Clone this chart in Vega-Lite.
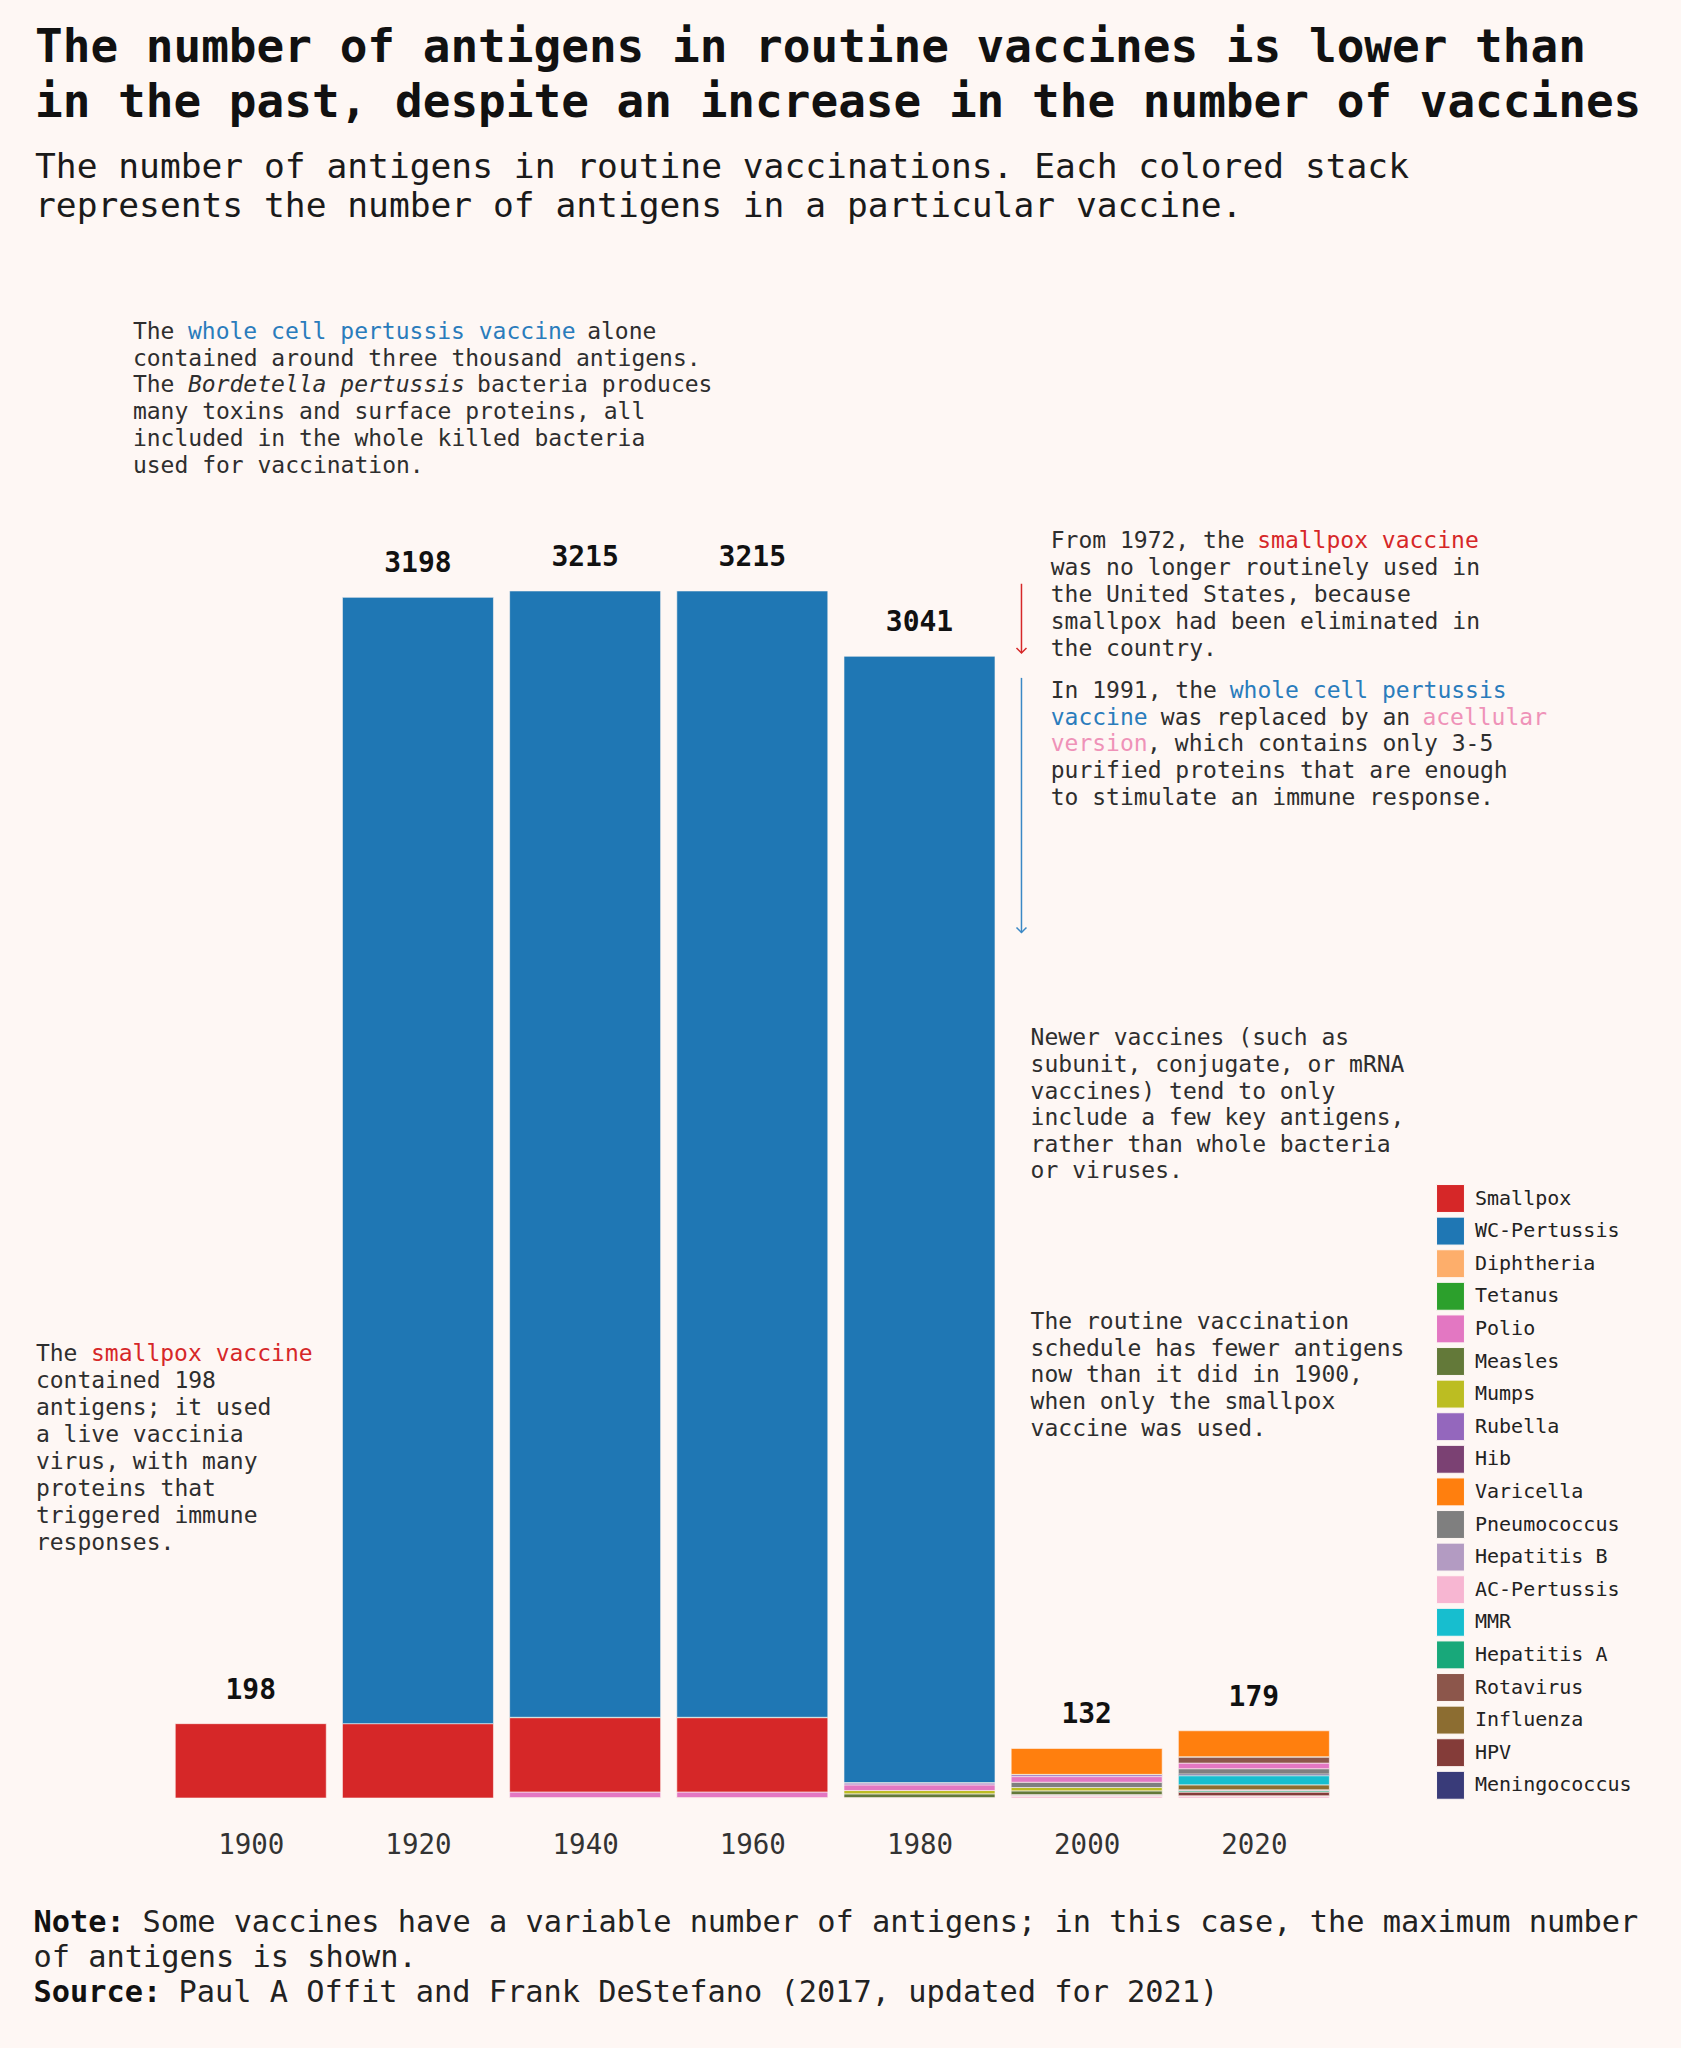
{
  "$schema": "https://vega.github.io/schema/vega-lite/v6.json",
  "width": 1681,
  "height": 1498,
  "autosize": {"type": "none"},
  "padding": {"left": 0, "top": 300, "right": 0, "bottom": 250},
  "background": "#fef7f4",
  "config": {"view": {"stroke": null}, "font": "DejaVu Sans Mono"},
  "title": {
    "text": ["The number of antigens in routine vaccines is lower than", "in the past, despite an increase in the number of vaccines"],
    "subtitle": ["The number of antigens in routine vaccinations. Each colored stack", "represents the number of antigens in a particular vaccine."],
    "anchor": "start",
    "frame": "group",
    "orient": "top",
    "font": "DejaVu Sans Mono",
    "fontSize": 46,
    "fontWeight": "bold",
    "color": "#111111",
    "lineHeight": 55,
    "subtitleFont": "DejaVu Sans Mono",
    "subtitleFontSize": 34.6,
    "subtitleColor": "#1a1a1a",
    "subtitleLineHeight": 39,
    "subtitlePadding": 24,
    "offset": 75,
    "dx": 35
  },
  "datasets": {
    "bars": [
      {"Year": 1900, "Vaccine": "Smallpox", "Antigens": 198},
      {"Year": 1920, "Vaccine": "Smallpox", "Antigens": 198},
      {"Year": 1920, "Vaccine": "WC-Pertussis", "Antigens": 3000},
      {"Year": 1940, "Vaccine": "Diphtheria", "Antigens": 1},
      {"Year": 1940, "Vaccine": "Polio", "Antigens": 15},
      {"Year": 1940, "Vaccine": "Smallpox", "Antigens": 198},
      {"Year": 1940, "Vaccine": "Tetanus", "Antigens": 1},
      {"Year": 1940, "Vaccine": "WC-Pertussis", "Antigens": 3000},
      {"Year": 1960, "Vaccine": "Diphtheria", "Antigens": 1},
      {"Year": 1960, "Vaccine": "Polio", "Antigens": 15},
      {"Year": 1960, "Vaccine": "Smallpox", "Antigens": 198},
      {"Year": 1960, "Vaccine": "Tetanus", "Antigens": 1},
      {"Year": 1960, "Vaccine": "WC-Pertussis", "Antigens": 3000},
      {"Year": 1980, "Vaccine": "Diphtheria", "Antigens": 1},
      {"Year": 1980, "Vaccine": "Measles", "Antigens": 10},
      {"Year": 1980, "Vaccine": "Mumps", "Antigens": 9},
      {"Year": 1980, "Vaccine": "Polio", "Antigens": 15},
      {"Year": 1980, "Vaccine": "Rubella", "Antigens": 5},
      {"Year": 1980, "Vaccine": "Tetanus", "Antigens": 1},
      {"Year": 1980, "Vaccine": "WC-Pertussis", "Antigens": 3000},
      {"Year": 2000, "Vaccine": "AC-Pertussis", "Antigens": 5},
      {"Year": 2000, "Vaccine": "Diphtheria", "Antigens": 1},
      {"Year": 2000, "Vaccine": "Hepatitis B", "Antigens": 1},
      {"Year": 2000, "Vaccine": "Hib", "Antigens": 2},
      {"Year": 2000, "Vaccine": "Measles", "Antigens": 10},
      {"Year": 2000, "Vaccine": "Mumps", "Antigens": 9},
      {"Year": 2000, "Vaccine": "Pneumococcus", "Antigens": 14},
      {"Year": 2000, "Vaccine": "Polio", "Antigens": 15},
      {"Year": 2000, "Vaccine": "Rubella", "Antigens": 5},
      {"Year": 2000, "Vaccine": "Tetanus", "Antigens": 1},
      {"Year": 2000, "Vaccine": "Varicella", "Antigens": 69},
      {"Year": 2020, "Vaccine": "AC-Pertussis", "Antigens": 5},
      {"Year": 2020, "Vaccine": "Diphtheria", "Antigens": 1},
      {"Year": 2020, "Vaccine": "Hepatitis A", "Antigens": 4},
      {"Year": 2020, "Vaccine": "Hepatitis B", "Antigens": 1},
      {"Year": 2020, "Vaccine": "Hib", "Antigens": 2},
      {"Year": 2020, "Vaccine": "HPV", "Antigens": 9},
      {"Year": 2020, "Vaccine": "Influenza", "Antigens": 13},
      {"Year": 2020, "Vaccine": "Meningococcus", "Antigens": 5},
      {"Year": 2020, "Vaccine": "MMR", "Antigens": 24},
      {"Year": 2020, "Vaccine": "Pneumococcus", "Antigens": 14},
      {"Year": 2020, "Vaccine": "Polio", "Antigens": 15},
      {"Year": 2020, "Vaccine": "Rotavirus", "Antigens": 16},
      {"Year": 2020, "Vaccine": "Tetanus", "Antigens": 1},
      {"Year": 2020, "Vaccine": "Varicella", "Antigens": 69}
    ],
    "arrow_smallpox": [{"Year": 1992.2, "Start": 3234.2, "End": 3049.7}],
    "arrow_pertussis": [{"Year": 1992.2, "Start": 2983.5, "End": 2305.2}],
    "notes_black": [
      {"Year": 1885.9, "Antigens": 3905.5, "Text": "The"},
      {"Year": 1940.24, "Antigens": 3905.5, "Text": "alone"},
      {"Year": 1885.9, "Antigens": 3833.9, "Text": "contained around three thousand antigens."},
      {"Year": 1885.9, "Antigens": 3762.3, "Text": "The"},
      {"Year": 1927.07, "Antigens": 3762.3, "Text": "bacteria produces"},
      {"Year": 1885.9, "Antigens": 3690.7, "Text": "many toxins and surface proteins, all"},
      {"Year": 1885.9, "Antigens": 3619.1, "Text": "included in the whole killed bacteria"},
      {"Year": 1885.9, "Antigens": 3547.5, "Text": "used for vaccination."},
      {"Year": 1995.7, "Antigens": 3348.9, "Text": "From 1972, the"},
      {"Year": 1995.7, "Antigens": 3276.9, "Text": "was no longer routinely used in"},
      {"Year": 1995.7, "Antigens": 3204.9, "Text": "the United States, because"},
      {"Year": 1995.7, "Antigens": 3132.9, "Text": "smallpox had been eliminated in"},
      {"Year": 1995.7, "Antigens": 3060.9, "Text": "the country."},
      {"Year": 1995.7, "Antigens": 2948.8, "Text": "In 1991, the"},
      {"Year": 2008.87, "Antigens": 2877.5, "Text": "was replaced by an"},
      {"Year": 2007.23, "Antigens": 2806.2, "Text": ", which contains only 3-5"},
      {"Year": 1995.7, "Antigens": 2734.9, "Text": "purified proteins that are enough"},
      {"Year": 1995.7, "Antigens": 2663.6, "Text": "to stimulate an immune response."},
      {"Year": 1993.29, "Antigens": 2023.4, "Text": "Newer vaccines (such as"},
      {"Year": 1993.29, "Antigens": 1952.5, "Text": "subunit, conjugate, or mRNA"},
      {"Year": 1993.29, "Antigens": 1881.6, "Text": "vaccines) tend to only"},
      {"Year": 1993.29, "Antigens": 1810.7, "Text": "include a few key antigens,"},
      {"Year": 1993.29, "Antigens": 1739.8, "Text": "rather than whole bacteria"},
      {"Year": 1993.29, "Antigens": 1668.9, "Text": "or viruses."},
      {"Year": 1993.29, "Antigens": 1268.4, "Text": "The routine vaccination"},
      {"Year": 1993.29, "Antigens": 1197.1, "Text": "schedule has fewer antigens"},
      {"Year": 1993.29, "Antigens": 1125.8, "Text": "now than it did in 1900,"},
      {"Year": 1993.29, "Antigens": 1054.5, "Text": "when only the smallpox"},
      {"Year": 1993.29, "Antigens": 983.2, "Text": "vaccine was used."},
      {"Year": 1874.3, "Antigens": 1181.4, "Text": "The"},
      {"Year": 1874.3, "Antigens": 1109.8, "Text": "contained 198"},
      {"Year": 1874.3, "Antigens": 1038.2, "Text": "antigens; it used"},
      {"Year": 1874.3, "Antigens": 966.6, "Text": "a live vaccinia"},
      {"Year": 1874.3, "Antigens": 895.0, "Text": "virus, with many"},
      {"Year": 1874.3, "Antigens": 823.4, "Text": "proteins that"},
      {"Year": 1874.3, "Antigens": 751.8, "Text": "triggered immune"},
      {"Year": 1874.3, "Antigens": 680.2, "Text": "responses."}
    ],
    "notes_blue": [
      {"Year": 1892.49, "Antigens": 3905.5, "Text": "whole cell pertussis vaccine"},
      {"Year": 2017.11, "Antigens": 2948.8, "Text": "whole cell pertussis"},
      {"Year": 1995.7, "Antigens": 2877.5, "Text": "vaccine"}
    ],
    "notes_red": [
      {"Year": 2020.4, "Antigens": 3348.9, "Text": "smallpox vaccine"},
      {"Year": 1880.89, "Antigens": 1181.4, "Text": "smallpox vaccine"}
    ],
    "notes_pink": [
      {"Year": 2040.16, "Antigens": 2877.5, "Text": "acellular"},
      {"Year": 1995.7, "Antigens": 2806.2, "Text": "version"}
    ],
    "notes_italic": [
      {"Year": 1892.49, "Antigens": 3762.3, "Text": "Bordetella pertussis"}
    ],
    "foot_bold": [
      {"Year": 1874.02, "Antigens": -331.9, "Text": "Note:"},
      {"Year": 1874.02, "Antigens": -519.9, "Text": "Source:"}
    ],
    "foot_normal": [
      {"Year": 1887.04, "Antigens": -331.9, "Text": "Some vaccines have a variable number of antigens; in this case, the maximum number"},
      {"Year": 1874.02, "Antigens": -425.9, "Text": "of antigens is shown."},
      {"Year": 1891.37, "Antigens": -519.9, "Text": "Paul A Offit and Frank DeStefano (2017, updated for 2021)"}
    ]
  },
  "layer": [
    {
      "mark": {"type": "rule", "color": "#555555", "strokeWidth": 2},
      "encoding": {
        "x": {"datum": 1891, "type": "quantitative", "scale": {"domain": [1870.6, 2070.5], "nice": false, "zero": false}, "axis": {"values": [1900, 1920, 1940, 1960, 1980, 2000, 2020], "format": "d", "title": null, "grid": false, "ticks": false, "domain": false, "labelFontSize": 27.5, "labelColor": "#333333", "labelPadding": 33, "labelFont": "DejaVu Sans Mono"}},
        "x2": {"datum": 2029},
        "y": {"datum": 0, "type": "quantitative", "scale": {"domain": [0, 3990], "nice": false, "zero": false}, "axis": null}
      }
    },
    {
      "data": {"name": "bars"},
      "mark": {"type": "bar", "width": 151, "orient": "vertical", "stroke": "#fef7f4", "strokeWidth": 0.6},
      "encoding": {
        "x": {"field": "Year", "type": "quantitative", "scale": {"domain": [1870.6, 2070.5], "nice": false, "zero": false}, "axis": {"values": [1900, 1920, 1940, 1960, 1980, 2000, 2020], "format": "d", "title": null, "grid": false, "ticks": false, "domain": false, "labelFontSize": 27.5, "labelColor": "#333333", "labelPadding": 33, "labelFont": "DejaVu Sans Mono"}},
        "y": {"field": "Antigens", "type": "quantitative", "stack": "zero", "scale": {"domain": [0, 3990], "nice": false, "zero": false}, "axis": null},
        "color": {
          "field": "Vaccine",
          "type": "nominal",
          "scale": {
            "domain": ["Smallpox", "WC-Pertussis", "Diphtheria", "Tetanus", "Polio", "Measles", "Mumps", "Rubella", "Hib", "Varicella", "Pneumococcus", "Hepatitis B", "AC-Pertussis", "MMR", "Hepatitis A", "Rotavirus", "Influenza", "HPV", "Meningococcus"],
            "range": ["#d62728", "#1f77b4", "#fdae6b", "#2ca02c", "#e377c2", "#637939", "#bcbd22", "#9467bd", "#7b4173", "#ff7f0e", "#7f7f7f", "#b39bc2", "#f7b6d2", "#17becf", "#18a87a", "#8c564b", "#8c6d31", "#843c39", "#393b79"]
          },
          "legend": {"orient": "none", "legendX": 1436, "legendY": 884, "title": null, "symbolType": "square", "symbolSize": 780, "labelFontSize": 20, "labelFont": "DejaVu Sans Mono", "labelColor": "#222222", "rowPadding": -0.4, "labelOffset": 10, "padding": 0, "symbolStrokeColor": "#fef7f4", "symbolStrokeWidth": 1}
        },
        "order": {"field": "Vaccine", "sort": "ascending"}
      }
    },
    {
      "data": {"name": "bars"},
      "mark": {"type": "text", "fontWeight": "bold", "fontSize": 28, "baseline": "middle", "dy": -33, "color": "#111111", "font": "DejaVu Sans Mono"},
      "encoding": {
        "x": {"field": "Year", "type": "quantitative", "scale": {"domain": [1870.6, 2070.5], "nice": false, "zero": false}, "axis": {"values": [1900, 1920, 1940, 1960, 1980, 2000, 2020], "format": "d", "title": null, "grid": false, "ticks": false, "domain": false, "labelFontSize": 27.5, "labelColor": "#333333", "labelPadding": 33, "labelFont": "DejaVu Sans Mono"}},
        "y": {"aggregate": "sum", "field": "Antigens", "type": "quantitative", "scale": {"domain": [0, 3990], "nice": false, "zero": false}, "axis": null},
        "text": {"aggregate": "sum", "field": "Antigens", "type": "quantitative", "format": "d"}
      }
    },
    {
      "data": {"name": "arrow_smallpox"},
      "mark": {"type": "rule", "color": "#d62728", "strokeWidth": 1.5},
      "encoding": {
        "x": {"field": "Year", "type": "quantitative", "scale": {"domain": [1870.6, 2070.5], "nice": false, "zero": false}, "axis": {"values": [1900, 1920, 1940, 1960, 1980, 2000, 2020], "format": "d", "title": null, "grid": false, "ticks": false, "domain": false, "labelFontSize": 27.5, "labelColor": "#333333", "labelPadding": 33, "labelFont": "DejaVu Sans Mono"}},
        "y": {"field": "Start", "type": "quantitative", "scale": {"domain": [0, 3990], "nice": false, "zero": false}, "axis": null},
        "y2": {"field": "End"}
      }
    },
    {
      "data": {"name": "arrow_smallpox"},
      "mark": {"type": "point", "shape": "M-1,-1L0,0L1,-1", "size": 100, "filled": false, "strokeWidth": 1.5, "color": "#d62728", "opacity": 1},
      "encoding": {
        "x": {"field": "Year", "type": "quantitative", "scale": {"domain": [1870.6, 2070.5], "nice": false, "zero": false}, "axis": {"values": [1900, 1920, 1940, 1960, 1980, 2000, 2020], "format": "d", "title": null, "grid": false, "ticks": false, "domain": false, "labelFontSize": 27.5, "labelColor": "#333333", "labelPadding": 33, "labelFont": "DejaVu Sans Mono"}},
        "y": {"field": "End", "type": "quantitative", "scale": {"domain": [0, 3990], "nice": false, "zero": false}, "axis": null}
      }
    },
    {
      "data": {"name": "arrow_pertussis"},
      "mark": {"type": "rule", "color": "#3a88c5", "strokeWidth": 1.5},
      "encoding": {
        "x": {"field": "Year", "type": "quantitative", "scale": {"domain": [1870.6, 2070.5], "nice": false, "zero": false}, "axis": {"values": [1900, 1920, 1940, 1960, 1980, 2000, 2020], "format": "d", "title": null, "grid": false, "ticks": false, "domain": false, "labelFontSize": 27.5, "labelColor": "#333333", "labelPadding": 33, "labelFont": "DejaVu Sans Mono"}},
        "y": {"field": "Start", "type": "quantitative", "scale": {"domain": [0, 3990], "nice": false, "zero": false}, "axis": null},
        "y2": {"field": "End"}
      }
    },
    {
      "data": {"name": "arrow_pertussis"},
      "mark": {"type": "point", "shape": "M-1,-1L0,0L1,-1", "size": 100, "filled": false, "strokeWidth": 1.5, "color": "#3a88c5", "opacity": 1},
      "encoding": {
        "x": {"field": "Year", "type": "quantitative", "scale": {"domain": [1870.6, 2070.5], "nice": false, "zero": false}, "axis": {"values": [1900, 1920, 1940, 1960, 1980, 2000, 2020], "format": "d", "title": null, "grid": false, "ticks": false, "domain": false, "labelFontSize": 27.5, "labelColor": "#333333", "labelPadding": 33, "labelFont": "DejaVu Sans Mono"}},
        "y": {"field": "End", "type": "quantitative", "scale": {"domain": [0, 3990], "nice": false, "zero": false}, "axis": null}
      }
    },
    {
      "data": {"name": "notes_black"},
      "mark": {"type": "text", "align": "left", "baseline": "middle", "fontSize": 23, "font": "DejaVu Sans Mono", "color": "#2e2e2e"},
      "encoding": {
        "x": {"field": "Year", "type": "quantitative", "scale": {"domain": [1870.6, 2070.5], "nice": false, "zero": false}, "axis": {"values": [1900, 1920, 1940, 1960, 1980, 2000, 2020], "format": "d", "title": null, "grid": false, "ticks": false, "domain": false, "labelFontSize": 27.5, "labelColor": "#333333", "labelPadding": 33, "labelFont": "DejaVu Sans Mono"}},
        "y": {"field": "Antigens", "type": "quantitative", "scale": {"domain": [0, 3990], "nice": false, "zero": false}, "axis": null},
        "text": {"field": "Text", "type": "nominal"}
      }
    },
    {
      "data": {"name": "notes_blue"},
      "mark": {"type": "text", "align": "left", "baseline": "middle", "fontSize": 23, "font": "DejaVu Sans Mono", "color": "#2a7cbc"},
      "encoding": {
        "x": {"field": "Year", "type": "quantitative", "scale": {"domain": [1870.6, 2070.5], "nice": false, "zero": false}, "axis": {"values": [1900, 1920, 1940, 1960, 1980, 2000, 2020], "format": "d", "title": null, "grid": false, "ticks": false, "domain": false, "labelFontSize": 27.5, "labelColor": "#333333", "labelPadding": 33, "labelFont": "DejaVu Sans Mono"}},
        "y": {"field": "Antigens", "type": "quantitative", "scale": {"domain": [0, 3990], "nice": false, "zero": false}, "axis": null},
        "text": {"field": "Text", "type": "nominal"}
      }
    },
    {
      "data": {"name": "notes_red"},
      "mark": {"type": "text", "align": "left", "baseline": "middle", "fontSize": 23, "font": "DejaVu Sans Mono", "color": "#d62728"},
      "encoding": {
        "x": {"field": "Year", "type": "quantitative", "scale": {"domain": [1870.6, 2070.5], "nice": false, "zero": false}, "axis": {"values": [1900, 1920, 1940, 1960, 1980, 2000, 2020], "format": "d", "title": null, "grid": false, "ticks": false, "domain": false, "labelFontSize": 27.5, "labelColor": "#333333", "labelPadding": 33, "labelFont": "DejaVu Sans Mono"}},
        "y": {"field": "Antigens", "type": "quantitative", "scale": {"domain": [0, 3990], "nice": false, "zero": false}, "axis": null},
        "text": {"field": "Text", "type": "nominal"}
      }
    },
    {
      "data": {"name": "notes_pink"},
      "mark": {"type": "text", "align": "left", "baseline": "middle", "fontSize": 23, "font": "DejaVu Sans Mono", "color": "#ef92b8"},
      "encoding": {
        "x": {"field": "Year", "type": "quantitative", "scale": {"domain": [1870.6, 2070.5], "nice": false, "zero": false}, "axis": {"values": [1900, 1920, 1940, 1960, 1980, 2000, 2020], "format": "d", "title": null, "grid": false, "ticks": false, "domain": false, "labelFontSize": 27.5, "labelColor": "#333333", "labelPadding": 33, "labelFont": "DejaVu Sans Mono"}},
        "y": {"field": "Antigens", "type": "quantitative", "scale": {"domain": [0, 3990], "nice": false, "zero": false}, "axis": null},
        "text": {"field": "Text", "type": "nominal"}
      }
    },
    {
      "data": {"name": "notes_italic"},
      "mark": {"type": "text", "align": "left", "baseline": "middle", "fontSize": 23, "font": "DejaVu Sans Mono", "fontStyle": "italic", "color": "#2e2e2e"},
      "encoding": {
        "x": {"field": "Year", "type": "quantitative", "scale": {"domain": [1870.6, 2070.5], "nice": false, "zero": false}, "axis": {"values": [1900, 1920, 1940, 1960, 1980, 2000, 2020], "format": "d", "title": null, "grid": false, "ticks": false, "domain": false, "labelFontSize": 27.5, "labelColor": "#333333", "labelPadding": 33, "labelFont": "DejaVu Sans Mono"}},
        "y": {"field": "Antigens", "type": "quantitative", "scale": {"domain": [0, 3990], "nice": false, "zero": false}, "axis": null},
        "text": {"field": "Text", "type": "nominal"}
      }
    },
    {
      "data": {"name": "foot_bold"},
      "mark": {"type": "text", "align": "left", "baseline": "middle", "fontSize": 30.3, "font": "DejaVu Sans Mono", "fontWeight": "bold", "color": "#111111"},
      "encoding": {
        "x": {"field": "Year", "type": "quantitative", "scale": {"domain": [1870.6, 2070.5], "nice": false, "zero": false}, "axis": {"values": [1900, 1920, 1940, 1960, 1980, 2000, 2020], "format": "d", "title": null, "grid": false, "ticks": false, "domain": false, "labelFontSize": 27.5, "labelColor": "#333333", "labelPadding": 33, "labelFont": "DejaVu Sans Mono"}},
        "y": {"field": "Antigens", "type": "quantitative", "scale": {"domain": [0, 3990], "nice": false, "zero": false}, "axis": null},
        "text": {"field": "Text", "type": "nominal"}
      }
    },
    {
      "data": {"name": "foot_normal"},
      "mark": {"type": "text", "align": "left", "baseline": "middle", "fontSize": 30.3, "font": "DejaVu Sans Mono", "color": "#222222"},
      "encoding": {
        "x": {"field": "Year", "type": "quantitative", "scale": {"domain": [1870.6, 2070.5], "nice": false, "zero": false}, "axis": {"values": [1900, 1920, 1940, 1960, 1980, 2000, 2020], "format": "d", "title": null, "grid": false, "ticks": false, "domain": false, "labelFontSize": 27.5, "labelColor": "#333333", "labelPadding": 33, "labelFont": "DejaVu Sans Mono"}},
        "y": {"field": "Antigens", "type": "quantitative", "scale": {"domain": [0, 3990], "nice": false, "zero": false}, "axis": null},
        "text": {"field": "Text", "type": "nominal"}
      }
    }
  ]
}
